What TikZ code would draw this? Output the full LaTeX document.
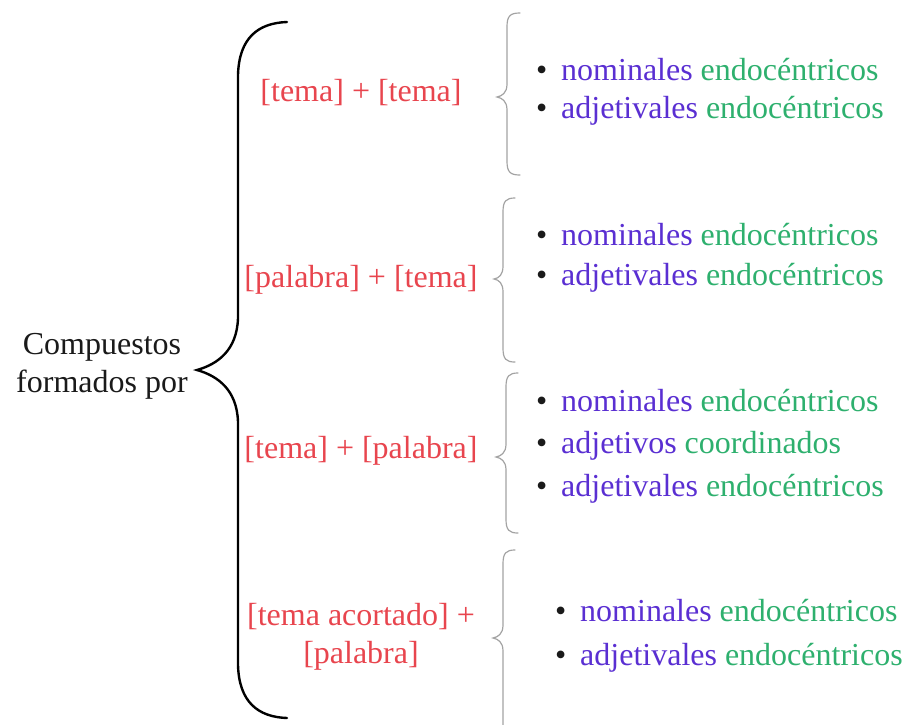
\documentclass[tikz,border=0pt]{standalone}
\usepackage{fontspec}
\setmainfont{Liberation Serif}
\definecolor{patred}{HTML}{E8454E}
\definecolor{nomcol}{HTML}{5A2FD2}
\definecolor{adjcol}{HTML}{2EB06E}
\definecolor{bracegray}{HTML}{A3A3A3}
\definecolor{ink}{HTML}{1A1A1A}
% one bulleted entry: bullet, word in violet, word in green
\newcommand\entry[2]{\makebox[25pt][l]{\textcolor{ink}{•}}\textcolor{nomcol}{#1} \textcolor{adjcol}{#2}}
% thin gray brace: end x, stem x, tip x, top y, tip y, bottom y
\newcommand\gbrace[6]{%
  \draw[sbrace] (#1,#4) .. controls (#2+3,#4) and (#2,#4+3) .. (#2,#4+14)
    -- (#2,#5-13) .. controls (#2,#5-4) and (#3+5,#5-1) .. (#3,#5)
    .. controls (#3+5,#5+1) and (#2,#5+4) .. (#2,#5+13)
    -- (#2,#6-14) .. controls (#2,#6-3) and (#2+3,#6) .. (#1,#6);}
\begin{document}
\begin{tikzpicture}[x=1pt,y=-1pt,
  txt/.style={font=\fontsize{32}{37.5}\selectfont, inner sep=0pt},
  lead/.style={txt, text=ink, align=center},
  pattern/.style={txt, text=patred, align=center, anchor=base},
  item/.style={txt, anchor=base west},
  bigbrace/.style={draw=black, line width=2.4pt, line cap=round},
  sbrace/.style={draw=bracegray, line width=1.2pt, line cap=round}]
\useasboundingbox (0,0) rectangle (904,724);
\clip (0,0) rectangle (904,724);

% main brace
\draw[bigbrace] (287,22) .. controls (258,23) and (239,38) .. (238,75)
  -- (238,318) .. controls (237,350) and (218,364) .. (197,370)
  .. controls (218,376) and (237,390) .. (238,422)
  -- (238,665) .. controls (239,702) and (258,717) .. (287,718);

% left label (base anchor sits on the last line)
\node[lead, anchor=base] (lead) at (102,392) {Compuestos\\formados por};

% patterns
\node[pattern] (p1) at (361,101) {[tema] + [tema]};
\node[pattern] (p2) at (361,287) {[palabra] + [tema]};
\node[pattern] (p3) at (361,458) {[tema] + [palabra]};
\node[pattern] (p4) at (361,663) {[tema acortado] +\\{}[palabra]};

% secondary braces
\gbrace{520}{507}{497}{13}{97}{175}
\gbrace{515}{503}{494}{198}{279}{362}
\gbrace{518}{506}{496}{373}{457}{533}
\gbrace{515}{503}{493}{550}{638}{740}

% group 1
\node[item] (a1) at (536,80) {\entry{nominales}{endocéntricos}};
\node[item] (a2) at (536,118) {\entry{adjetivales}{endocéntricos}};
% group 2
\node[item] (b1) at (536,245) {\entry{nominales}{endocéntricos}};
\node[item] (b2) at (536,285) {\entry{adjetivales}{endocéntricos}};
% group 3
\node[item] (c1) at (536,411) {\entry{nominales}{endocéntricos}};
\node[item] (c2) at (536,453) {\entry{adjetivos}{coordinados}};
\node[item] (c3) at (536,496) {\entry{adjetivales}{endocéntricos}};
% group 4
\node[item] (d1) at (555,621) {\entry{nominales}{endocéntricos}};
\node[item] (d2) at (555,665) {\entry{adjetivales}{endocéntricos}};
\end{tikzpicture}
\end{document}
